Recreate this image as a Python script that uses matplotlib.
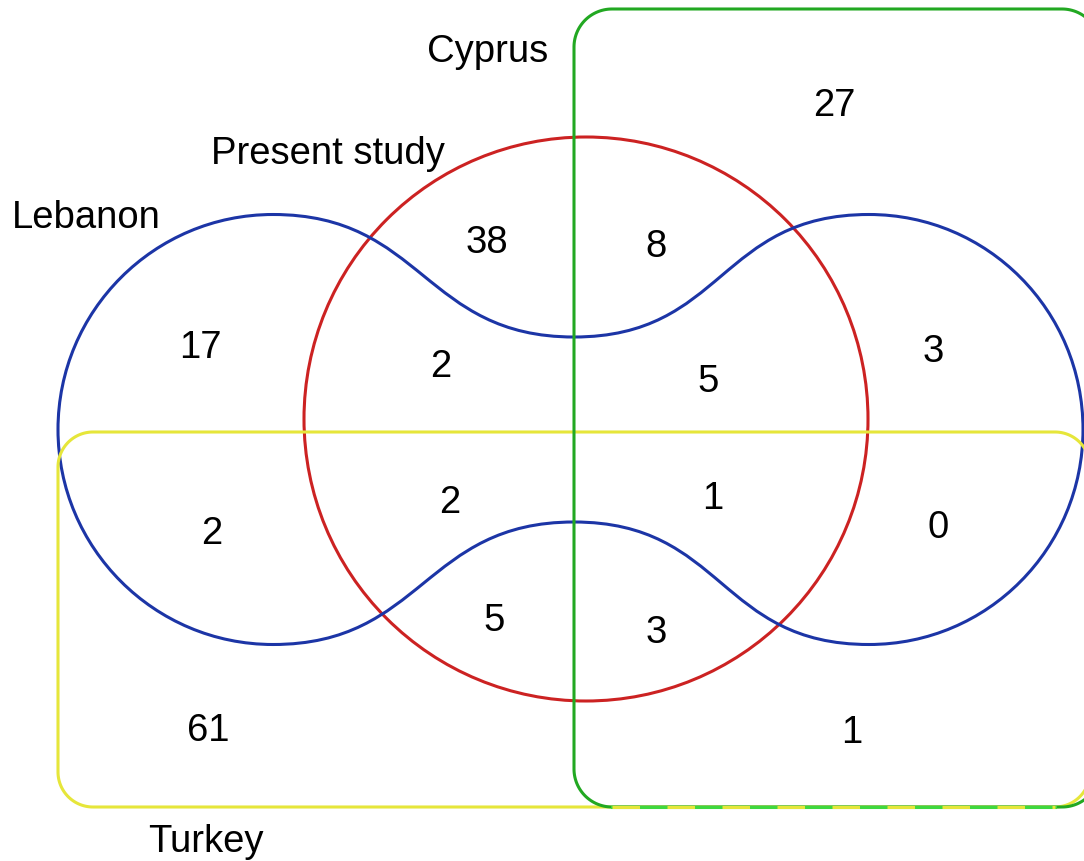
import numpy as np
import matplotlib.pyplot as plt
from matplotlib.patches import Circle, PathPatch
from matplotlib.path import Path

plt.rcParams['font.family'] = ['Liberation Sans', 'DejaVu Sans']

# set names and region counts
set_names = ['Cyprus', 'Present study', 'Lebanon', 'Turkey']
counts = [27, 38, 8, 17, 2, 5, 3, 2, 1, 0, 2, 5, 3, 61, 1]

# where things go (pixel coords, y down)
name_xy = [(488, 62), (328, 164), (86, 228), (206, 852)]
count_xy = [(834, 116), (487, 253), (656, 257), (200, 358), (441, 377),
            (708, 392), (933, 362), (450, 513), (713, 509), (938, 538),
            (212, 544), (494, 631), (656, 643), (208, 741), (852, 743)]

blue = '#1c35a6'
red = '#cc2222'
green = '#22a822'
yellow = '#e6e63a'


def rounded_rect(x0, y0, x1, y1, rad, n=30):
    # polyline of a rounded rectangle, corners as quarter arcs
    corners = [(x1 - rad, y1 - rad, 0), (x0 + rad, y1 - rad, 90),
               (x0 + rad, y0 + rad, 180), (x1 - rad, y0 + rad, 270)]
    xs, ys = [], []
    for cx, cy, a0 in corners:
        t = np.radians(np.linspace(a0, a0 + 90, n))
        xs.append(cx + rad * np.cos(t))
        ys.append(cy + rad * np.sin(t))
    xs = np.concatenate(xs)
    ys = np.concatenate(ys)
    return np.append(xs, xs[0]), np.append(ys, ys[0])


fig = plt.figure(figsize=(10.84, 8.62), dpi=100)
ax = fig.add_axes([0, 0, 1, 1])
ax.set_xlim(0, 1084)
ax.set_ylim(862, 0)
ax.axis('off')

lw = 2.2

# Turkey - yellow rounded box
ax.plot(*rounded_rect(58, 433, 1090, 808, 35), color=yellow, lw=lw)
# Cyprus - green rounded box
ax.plot(*rounded_rect(574, 10, 1100, 808, 38), color=green, lw=lw)
# shared bottom edge drawn dashed yellow over green
ax.plot([612, 1055], [808, 808], color='#3ed83e', lw=lw)
ax.plot([612, 1055], [808, 808], color=yellow, lw=lw, dashes=(9, 9))

# Present study - red circle
ax.add_patch(Circle((586, 420), 282, fc='none', ec=red, lw=lw))

# Lebanon - blue dumbbell made of cubic curves
cy = 430.5
lx, rx = 273, 869      # lobe centres
r = 215                # lobe half size
mx, h = 574, 92.5      # waist position and half height
k = 0.552 * r
w = 150
top = cy - r
bot = cy + r
verts = [
    (lx - r, cy),
    (lx - r, cy - k), (lx - k, top), (lx, top),
    (lx + w, top), (mx - w, cy - h), (mx, cy - h),
    (mx + w, cy - h), (rx - w, top), (rx, top),
    (rx + k, top), (rx + r - 1, cy - k), (rx + r - 1, cy),
    (rx + r - 1, cy + k), (rx + k, bot), (rx, bot),
    (rx - w, bot), (mx + w, cy + h), (mx, cy + h),
    (mx - w, cy + h), (lx + w, bot), (lx, bot),
    (lx - k, bot), (lx - r, cy + k), (lx - r, cy),
]
codes = [Path.MOVETO] + [Path.CURVE4] * 24
ax.add_patch(PathPatch(Path(verts, codes), fc='none', ec=blue, lw=lw))

fs = 27.5
for name, (x, y) in zip(set_names, name_xy):
    ax.text(x, y, name, fontsize=fs, ha='center', va='baseline')
for c, (x, y) in zip(counts, count_xy):
    ax.text(x, y, str(c), fontsize=fs, ha='center', va='baseline')

fig.savefig('out.png', dpi=100)
